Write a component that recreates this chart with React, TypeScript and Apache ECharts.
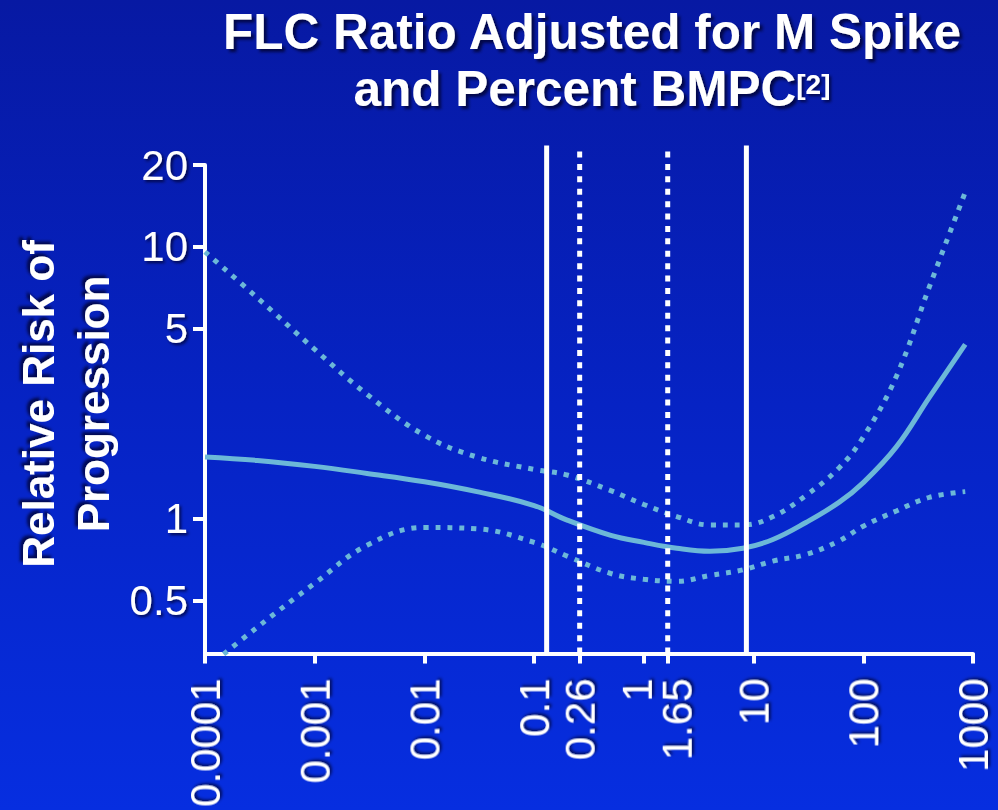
import React, { useEffect, useRef } from "react";
import * as echarts from "echarts";

// ---- data ----
const ratios = [0.0001, 0.0003, 0.001, 0.003, 0.01, 0.03, 0.1, 0.2, 0.5, 1, 2, 4, 8, 15, 30, 60, 100, 200, 400, 850];
const fitRisk = [1.69, 1.64, 1.56, 1.47, 1.37, 1.26, 1.12, 0.99, 0.87, 0.82, 0.78, 0.76, 0.78, 0.84, 0.97, 1.15, 1.36, 1.84, 2.8, 4.38];
const upperRisk = [9.59, 6.5, 4.2, 2.87, 2.03, 1.69, 1.52, 1.45, 1.27, 1.13, 1.02, 0.95, 0.95, 1.02, 1.22, 1.54, 2.0, 3.34, 7.13, 15.9];
const lowerRisk = [0.28, 0.4, 0.58, 0.8, 0.93, 0.92, 0.82, 0.73, 0.63, 0.6, 0.59, 0.62, 0.65, 0.7, 0.74, 0.83, 0.94, 1.07, 1.2, 1.26];

const solidCutoffs = [0.13, 8.6];
const dottedCutoffs = [0.26, 1.65];

const xTickLabels = ["0.0001", "0.001", "0.01", "0.1", "0.26", "1", "1.65", "10", "100", "1000"];
const yTickLabels = ["0.5", "1", "5", "10", "20"];

const xMinValue = 0.0001;
const xMaxValue = 1000;
const yMinValue = 0.32;
const yMaxValue = 20;
const cutoffTopValue = 23.6;

const titleLine1 = "FLC Ratio Adjusted for M Spike";
const titleLine2 = "and Percent BMPC";
const titleSup = "[2]";
const yTitle = "Relative Risk of\nProgression";

const FONT = '"Liberation Sans", Arial, Helvetica, sans-serif';
const CURVE = "#6cb8d8";
const SHADOW = "rgba(0,0,40,0.75)";

const lg = (v: number) => Math.log10(v);

function nearestLabel(labels: string[], v: number) {
  let best = labels[0];
  let bd = Infinity;
  for (const l of labels) {
    const d = Math.abs(lg(parseFloat(l)) - v);
    if (d < bd) {
      bd = d;
      best = l;
    }
  }
  return best;
}

export default function App() {
  const ref = useRef<HTMLDivElement>(null);

  useEffect(() => {
    if (!ref.current) return;
    const chart = echarts.init(ref.current, undefined, { renderer: "svg" });

    const toPts = (ys: number[]) => ratios.map((r, i) => [lg(r), lg(ys[i])]);
    const vline = (v: number) => [
      [lg(v), lg(yMinValue)],
      [lg(v), lg(cutoffTopValue)],
    ];

    const labelShadow = {
      textShadowColor: SHADOW,
      textShadowBlur: 3,
      textShadowOffsetX: 2,
      textShadowOffsetY: 2,
    };

    const richBase = { fontSize: 42, fontFamily: FONT, color: "#ffffff", ...labelShadow };

    const option: any = {
      animation: false,
      backgroundColor: "transparent",
      grid: { left: 205, right: 25, top: 165, bottom: 155, containLabel: false },
      xAxis: {
        type: "value",
        min: lg(xMinValue),
        max: lg(xMaxValue),
        splitLine: { show: false },
        axisLine: { show: true, onZero: false, lineStyle: { color: "#ffffff", width: 4 } },
        axisTick: {
          show: true,
          length: 10,
          lineStyle: { color: "#ffffff", width: 4 },
          customValues: xTickLabels.map((l) => lg(parseFloat(l))),
        },
        axisLabel: {
          show: true,
          rotate: 90,
          margin: 25,
          color: "#ffffff",
          fontSize: 42,
          fontFamily: FONT,
          ...labelShadow,
          customValues: xTickLabels.map((l) => lg(parseFloat(l))),
          formatter: (v: number) => {
            const l = nearestLabel(xTickLabels, v);
            if (l === "1") return "{l|1}";
            if (l === "1.65") return "{r|1.65}";
            return l;
          },
          rich: {
            l: { ...richBase, padding: [0, 0, 14, 0] },
            r: { ...richBase, padding: [18, 0, 0, 0] },
          },
        },
      },
      yAxis: {
        type: "value",
        min: lg(yMinValue),
        max: lg(yMaxValue),
        splitLine: { show: false },
        axisLine: { show: true, onZero: false, lineStyle: { color: "#ffffff", width: 4 } },
        axisTick: {
          show: true,
          length: 12,
          lineStyle: { color: "#ffffff", width: 4 },
          customValues: yTickLabels.map((l) => lg(parseFloat(l))),
        },
        axisLabel: {
          show: true,
          margin: 17,
          color: "#ffffff",
          fontSize: 42,
          fontFamily: FONT,
          ...labelShadow,
          customValues: yTickLabels.map((l) => lg(parseFloat(l))),
          formatter: (v: number) => nearestLabel(yTickLabels, v),
        },
      },
      graphic: [
        {
          type: "text",
          x: 592,
          y: 3,
          style: {
            text: `{t|${titleLine1}}\n{t|${titleLine2}}{s|${titleSup}}`,
            align: "center",
            verticalAlign: "top",
            rich: {
              t: {
                fontSize: 49.5,
                fontWeight: "bold",
                fontFamily: FONT,
                fill: "#ffffff",
                lineHeight: 57,
                textShadowColor: SHADOW,
                textShadowBlur: 3,
                textShadowOffsetX: 3,
                textShadowOffsetY: 3,
              },
              s: {
                fontSize: 28,
                fontWeight: "bold",
                fontFamily: FONT,
                fill: "#ffffff",
                lineHeight: 28,
                padding: [0, 0, 9, 0],
                textShadowColor: SHADOW,
                textShadowBlur: 3,
                textShadowOffsetX: 2,
                textShadowOffsetY: 2,
              },
            },
          },
        },
        {
          type: "text",
          x: 66,
          y: 404,
          rotation: Math.PI / 2,
          style: {
            text: yTitle,
            align: "center",
            verticalAlign: "middle",
            fontSize: 44,
            fontWeight: "bold",
            fontFamily: FONT,
            lineHeight: 55,
            fill: "#ffffff",
            textShadowColor: SHADOW,
            textShadowBlur: 3,
            textShadowOffsetX: 3,
            textShadowOffsetY: -3,
          },
        },
      ],
      series: [
        {
          name: "Upper 95% CI",
          type: "line",
          data: toPts(upperRisk),
          smooth: 0.4,
          showSymbol: false,
          symbol: "none",
          lineStyle: { color: CURVE, width: 5, type: [5, 7], cap: "butt" },
          z: 3,
        },
        {
          name: "Lower 95% CI",
          type: "line",
          data: toPts(lowerRisk),
          smooth: 0.4,
          showSymbol: false,
          symbol: "none",
          lineStyle: { color: CURVE, width: 5, type: [5, 7], cap: "butt" },
          z: 3,
        },
        {
          name: "Relative risk",
          type: "line",
          data: toPts(fitRisk),
          smooth: 0.4,
          showSymbol: false,
          symbol: "none",
          lineStyle: { color: CURVE, width: 5 },
          z: 4,
        },
        ...solidCutoffs.map((v) => ({
          name: `cut ${v}`,
          type: "line",
          data: vline(v),
          clip: false,
          showSymbol: false,
          symbol: "none",
          lineStyle: { color: "#ffffff", width: 5 },
          z: 5,
        })),
        ...dottedCutoffs.map((v) => ({
          name: `cut ${v}`,
          type: "line",
          data: vline(v),
          clip: false,
          showSymbol: false,
          symbol: "none",
          lineStyle: { color: "#ffffff", width: 5, type: [6, 6.4], cap: "butt" },
          z: 5,
        })),
      ],
    };

    chart.setOption(option);
    return () => chart.dispose();
  }, []);

  return (
    <div
      style={{
        position: "fixed",
        left: 0,
        top: 0,
        width: 998,
        height: 810,
        background: "linear-gradient(to bottom, #0719a3 0%, #0623c4 50%, #062ee0 100%)",
      }}
    >
      <div ref={ref} style={{ width: 998, height: 810 }} />
    </div>
  );
}
